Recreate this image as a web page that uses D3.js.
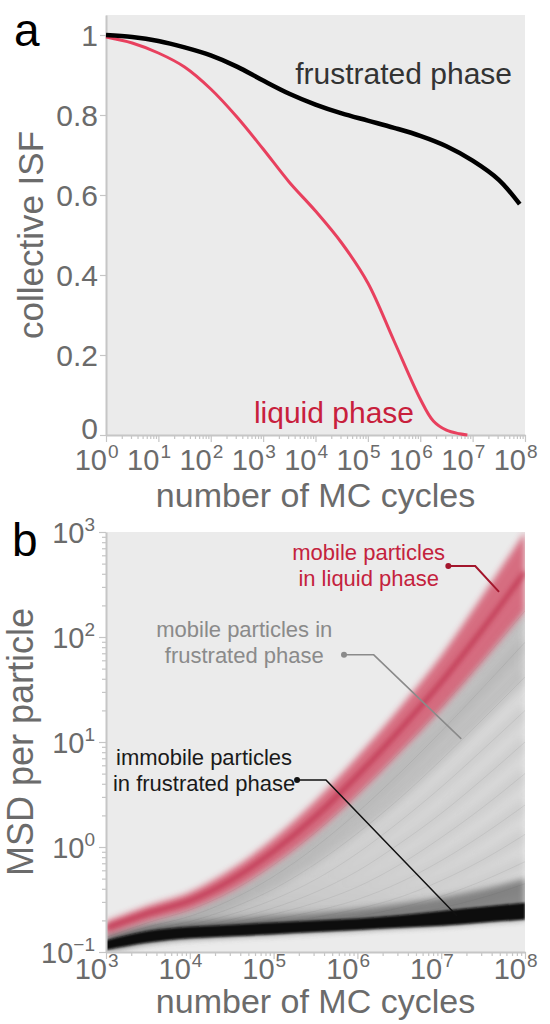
<!DOCTYPE html>
<html>
<head>
<meta charset="utf-8">
<script src="https://cdn.jsdelivr.net/npm/d3@7"></script>
<style>
body { margin: 0; background: #fff; }
svg text { font-family: "Liberation Sans", Arial, sans-serif; }
</style>
</head>
<body>
<div id="chart"></div>
<script>
// ---- panel a: collective ISF (x in log10 of MC cycles) ----
var frustratedLogT = [0, 0.5, 1, 1.5, 2, 2.5, 3, 3.5, 4, 4.5, 5, 5.5, 6, 6.5, 7, 7.5, 7.9];
var frustratedISF = [1.0, 0.995, 0.985, 0.969, 0.949, 0.921, 0.886, 0.853, 0.826, 0.804, 0.786, 0.768, 0.748, 0.722, 0.686, 0.638, 0.577];
var liquidLogT = [0, 0.5, 1, 1.5, 2, 2.5, 3, 3.5, 4, 4.5, 5, 5.5, 6, 6.25, 6.5, 6.75, 6.9];
var liquidISF = [0.995, 0.98, 0.955, 0.92, 0.865, 0.795, 0.715, 0.632, 0.56, 0.48, 0.38, 0.235, 0.09, 0.035, 0.012, 0.003, 0.0];
var isfTicks = [0, 0.2, 0.4, 0.6, 0.8, 1];
var decadesA = [0, 1, 2, 3, 4, 5, 6, 7, 8];

// ---- panel b: MSD per particle (log10 values at each log10 time) ----
var msdLogT = [3, 3.5, 4, 4.5, 5, 5.5, 6, 6.5, 7, 7.5, 8];
var liquidMid  = [-0.77, -0.63, -0.51, -0.31, -0.04, 0.29, 0.68, 1.11, 1.57, 2.08, 2.62];
var liquidHigh = [-0.71, -0.56, -0.43, -0.21, 0.08, 0.44, 0.86, 1.32, 1.82, 2.40, 3.00];
var liquidLow  = [-0.84, -0.71, -0.60, -0.42, -0.17, 0.13, 0.49, 0.89, 1.31, 1.77, 2.25];
var immobileHigh = [-0.89, -0.80, -0.76, -0.74, -0.72, -0.70, -0.68, -0.65, -0.61, -0.57, -0.53];
var immobileLow  = [-0.98, -0.91, -0.87, -0.85, -0.83, -0.81, -0.79, -0.77, -0.75, -0.72, -0.69];
var immobileHalo = [-0.86, -0.76, -0.72, -0.69, -0.66, -0.63, -0.59, -0.54, -0.48, -0.40, -0.30];
var mobileFrustrated = [
  [-0.86, -0.72, -0.60, -0.42, -0.17, 0.14, 0.50, 0.90, 1.33, 1.78, 2.25],
  [-0.88, -0.76, -0.66, -0.50, -0.28, 0.00, 0.33, 0.70, 1.10, 1.52, 1.95],
  [-0.90, -0.79, -0.71, -0.58, -0.40, -0.16, 0.13, 0.46, 0.83, 1.22, 1.62],
  [-0.91, -0.81, -0.74, -0.64, -0.50, -0.31, -0.06, 0.24, 0.57, 0.93, 1.30],
  [-0.92, -0.83, -0.77, -0.69, -0.58, -0.43, -0.23, 0.03, 0.32, 0.65, 1.00],
  [-0.92, -0.84, -0.78, -0.72, -0.64, -0.53, -0.38, -0.17, 0.09, 0.38, 0.70],
  [-0.93, -0.84, -0.79, -0.75, -0.69, -0.61, -0.50, -0.34, -0.13, 0.12, 0.40],
  [-0.93, -0.85, -0.80, -0.77, -0.73, -0.67, -0.59, -0.48, -0.32, -0.12, 0.12],
  [-0.93, -0.85, -0.80, -0.77, -0.75, -0.71, -0.66, -0.58, -0.47, -0.32, -0.14],
  [-0.93, -0.85, -0.81, -0.78, -0.76, -0.74, -0.70, -0.65, -0.58, -0.48, -0.35]
];
var decadesBx = [3, 4, 5, 6, 7, 8];
var decadesBy = [-1, 0, 1, 2, 3];

var svg = d3.select("#chart").append("svg")
  .attr("width", 550)
  .attr("height", 1024);

var defs = svg.append("defs");
[["blur1", 1], ["blur2", 2], ["blur3", 3], ["blur5", 5]].forEach(function(b) {
  defs.append("filter").attr("id", b[0])
    .attr("x", "-20%").attr("y", "-20%").attr("width", "140%").attr("height", "140%")
    .append("feGaussianBlur").attr("stdDeviation", b[1]);
});

var axisColor = "#c6c6c6";
var textGrey = "#6b6b6b";

// ======== panel a ========
var xA = d3.scaleLog().domain([1, 1e8]).range([106, 525]);
var yA = d3.scaleLinear().domain([0, 1.05]).range([435, 15]);

var gA = svg.append("g");
gA.append("rect")
  .attr("x", xA(1)).attr("y", yA(1.05))
  .attr("width", xA(1e8) - xA(1)).attr("height", yA(0) - yA(1.05))
  .attr("fill", "#ebebeb");

function minorTicks(lo, hi) {
  var out = [];
  for (var e = lo; e < hi; e++) {
    for (var m = 2; m <= 9; m++) out.push(m * Math.pow(10, e));
  }
  return out;
}

function styleAxis(g) {
  g.select(".domain").attr("stroke", axisColor).attr("stroke-width", 2);
  g.selectAll(".tick line").attr("stroke", axisColor).attr("stroke-width", 1.2);
  g.selectAll(".tick text").remove();
}

gA.append("g")
  .attr("transform", "translate(0," + yA(0) + ")")
  .call(d3.axisBottom(xA).tickValues(minorTicks(0, 8)).tickSize(4).tickSizeOuter(0))
  .call(styleAxis)
  .select(".domain").remove();
gA.append("g")
  .attr("transform", "translate(0," + yA(0) + ")")
  .call(d3.axisBottom(xA).tickValues(decadesA.map(function(d) { return Math.pow(10, d); })).tickSize(7).tickSizeOuter(0))
  .call(styleAxis);
gA.append("g")
  .attr("transform", "translate(" + xA(1) + ",0)")
  .call(d3.axisLeft(yA).tickValues(isfTicks).tickSize(6).tickSizeOuter(0))
  .call(styleAxis);

gA.selectAll(".ylab")
  .data(isfTicks)
  .enter().append("text")
  .attr("x", xA(1) - 8)
  .attr("y", function(d) { return yA(d) - (d === 0 ? 7 : 0); })
  .attr("dy", "0.36em")
  .attr("text-anchor", "end")
  .attr("font-size", 30)
  .attr("fill", textGrey)
  .text(function(d) { return (d === 0 || d === 1) ? d : d.toFixed(1); });

function powerLabels(g, decs, xs, y) {
  decs.forEach(function(e) {
    var x = xs(Math.pow(10, e));
    g.append("text")
      .attr("x", x + 1).attr("y", y)
      .attr("text-anchor", "end")
      .attr("font-size", 29)
      .attr("fill", textGrey)
      .text("10");
    g.append("text")
      .attr("x", x + 2).attr("y", y - 12)
      .attr("text-anchor", "start")
      .attr("font-size", 19)
      .attr("fill", textGrey)
      .text(e < 0 ? "\u2212" + (-e) : e);
  });
}
powerLabels(gA, decadesA, xA, 470);

gA.append("text")
  .attr("x", (xA(1) + xA(1e8)) / 2).attr("y", 507)
  .attr("text-anchor", "middle")
  .attr("font-size", 34)
  .attr("fill", textGrey)
  .text("number of MC cycles");
gA.append("text")
  .attr("transform", "translate(43," + yA(0.5) + ") rotate(-90)")
  .attr("text-anchor", "middle")
  .attr("font-size", 35)
  .attr("fill", textGrey)
  .text("collective ISF");

var lineA = d3.line()
  .x(function(d) { return xA(Math.pow(10, d[0])); })
  .y(function(d) { return yA(d[1]); })
  .curve(d3.curveCatmullRom.alpha(0.5));

gA.append("path")
  .datum(d3.zip(liquidLogT, liquidISF))
  .attr("d", lineA)
  .attr("fill", "none")
  .attr("stroke", "#e8405e")
  .attr("stroke-width", 3);
gA.append("path")
  .datum(d3.zip(frustratedLogT, frustratedISF))
  .attr("d", lineA)
  .attr("fill", "none")
  .attr("stroke", "#000")
  .attr("stroke-width", 4.5);

gA.append("text")
  .attr("x", 512).attr("y", 84)
  .attr("text-anchor", "end")
  .attr("font-size", 30)
  .attr("fill", "#333")
  .text("frustrated phase");
gA.append("text")
  .attr("x", 414).attr("y", 423)
  .attr("text-anchor", "end")
  .attr("font-size", 30)
  .attr("fill", "#c8203c")
  .text("liquid phase");

svg.append("text")
  .attr("x", 14).attr("y", 46)
  .attr("font-size", 46)
  .attr("fill", "#000")
  .text("a");

// ======== panel b ========
var xB = d3.scaleLog().domain([1e3, 1e8]).range([106, 525]);
var yB = d3.scaleLog().domain([0.1, 1000]).range([952, 532]);

var gB = svg.append("g");
defs.append("clipPath").attr("id", "clipB")
  .append("rect")
  .attr("x", xB(1e3)).attr("y", yB(1000))
  .attr("width", xB(1e8) - xB(1e3)).attr("height", yB(0.1) - yB(1000));

gB.append("rect")
  .attr("x", xB(1e3)).attr("y", yB(1000))
  .attr("width", xB(1e8) - xB(1e3)).attr("height", yB(0.1) - yB(1000))
  .attr("fill", "#ebebeb");

var plotB = gB.append("g").attr("clip-path", "url(#clipB)");

function px(i) { return xB(Math.pow(10, msdLogT[i])); }
function py(v) { return yB(Math.pow(10, v)); }

var lineB = d3.line()
  .x(function(d, i) { return px(i); })
  .y(function(d) { return py(d); })
  .curve(d3.curveMonotoneX);

function bandB(lower, upper) {
  return d3.area()
    .x(function(d, i) { return px(i); })
    .y0(function(d, i) { return py(lower[i]); })
    .y1(function(d, i) { return py(upper[i]); })
    .curve(d3.curveMonotoneX)(msdLogT);
}

// fan of mobile particles in frustrated phase
plotB.append("path")
  .attr("d", bandB(immobileLow, mobileFrustrated[0]))
  .attr("fill", "#dadada")
  .attr("filter", "url(#blur3)");
plotB.append("path")
  .attr("d", bandB(mobileFrustrated[2], liquidLow))
  .attr("fill", "#9a9a9a")
  .attr("opacity", 0.35)
  .attr("filter", "url(#blur5)");

var fanSoft = plotB.append("g").attr("filter", "url(#blur5)");
mobileFrustrated.forEach(function(c) {
  fanSoft.append("path")
    .attr("d", lineB(c))
    .attr("fill", "none")
    .attr("stroke", "#777")
    .attr("stroke-width", 12)
    .attr("opacity", 0.14);
});
mobileFrustrated.forEach(function(c) {
  plotB.append("path")
    .attr("d", lineB(c))
    .attr("fill", "none")
    .attr("stroke", "#555")
    .attr("stroke-width", 0.7)
    .attr("opacity", 0.14);
});

// dark halo above the immobile band
plotB.append("path")
  .attr("d", bandB(immobileLow, immobileHalo))
  .attr("fill", "#444")
  .attr("opacity", 0.55)
  .attr("filter", "url(#blur3)");

// mobile particles in liquid phase
plotB.append("path")
  .attr("d", bandB(liquidLow, liquidHigh))
  .attr("fill", "#cf3d58")
  .attr("opacity", 0.72)
  .attr("filter", "url(#blur3)");
plotB.append("path")
  .attr("d", lineB(liquidMid))
  .attr("fill", "none")
  .attr("stroke", "#b8243f")
  .attr("stroke-width", 6)
  .attr("opacity", 0.5)
  .attr("filter", "url(#blur2)");

// immobile particles
plotB.append("path")
  .attr("d", bandB(immobileLow, immobileHigh))
  .attr("fill", "#0a0a0a")
  .attr("filter", "url(#blur1)");

// axes
gB.append("g")
  .attr("transform", "translate(0," + yB(0.1) + ")")
  .call(d3.axisBottom(xB).tickValues(minorTicks(3, 8)).tickSize(4).tickSizeOuter(0))
  .call(styleAxis)
  .select(".domain").remove();
gB.append("g")
  .attr("transform", "translate(0," + yB(0.1) + ")")
  .call(d3.axisBottom(xB).tickValues(decadesBx.map(function(d) { return Math.pow(10, d); })).tickSize(7).tickSizeOuter(0))
  .call(styleAxis);
gB.append("g")
  .attr("transform", "translate(" + xB(1e3) + ",0)")
  .call(d3.axisLeft(yB).tickValues(minorTicks(-1, 3)).tickSize(4).tickSizeOuter(0))
  .call(styleAxis)
  .select(".domain").remove();
gB.append("g")
  .attr("transform", "translate(" + xB(1e3) + ",0)")
  .call(d3.axisLeft(yB).tickValues(decadesBy.map(function(d) { return Math.pow(10, d); })).tickSize(7).tickSizeOuter(0))
  .call(styleAxis);

powerLabels(gB, decadesBx, xB, 979);

decadesBy.forEach(function(e) {
  var t = gB.append("text")
    .attr("x", 95).attr("y", yB(Math.pow(10, e)) + 11)
    .attr("text-anchor", "end")
    .attr("font-size", 29)
    .attr("fill", textGrey);
  t.append("tspan").text("10");
  t.append("tspan").attr("font-size", 19).attr("dy", -12).text(e < 0 ? "\u2212" + (-e) : e);
});

gB.append("text")
  .attr("x", (xB(1e3) + xB(1e8)) / 2).attr("y", 1013)
  .attr("text-anchor", "middle")
  .attr("font-size", 34)
  .attr("fill", textGrey)
  .text("number of MC cycles");
gB.append("text")
  .attr("transform", "translate(33," + yB(10) + ") rotate(-90)")
  .attr("text-anchor", "middle")
  .attr("font-size", 36)
  .attr("fill", textGrey)
  .text("MSD per particle");

svg.append("text")
  .attr("x", 12).attr("y", 556)
  .attr("font-size", 46)
  .attr("fill", "#000")
  .text("b");

// annotations (positions in data space: log10 t, log10 msd)
var notes = [
  { lines: ["mobile particles", "in liquid phase"], color: "#c4223d", lineColor: "#a3162c",
    text: [6.135, 2.73], path: [[7.085, 2.676], [7.406, 2.676], [7.69, 2.43]], width: 2 },
  { lines: ["mobile particles in", "frustrated phase"], color: "#8a8a8a", lineColor: "#8a8a8a",
    text: [4.65, 2.0], path: [[5.84, 1.83], [6.195, 1.83], [7.24, 1.03]], width: 1.5 },
  { lines: ["immobile particles", "in frustrated phase"], color: "#1a1a1a", lineColor: "#111",
    text: [4.17, 0.78], path: [[5.28, 0.638], [5.625, 0.638], [7.19, -0.657]], width: 1.5 }
];

notes.forEach(function(n) {
  var tx = xB(Math.pow(10, n.text[0]));
  var ty = yB(Math.pow(10, n.text[1]));
  n.lines.forEach(function(s, i) {
    gB.append("text")
      .attr("x", tx).attr("y", ty + i * 26)
      .attr("text-anchor", "middle")
      .attr("font-size", 22)
      .attr("fill", n.color)
      .text(s);
  });
  gB.append("path")
    .attr("d", d3.line()
      .x(function(d) { return xB(Math.pow(10, d[0])); })
      .y(function(d) { return yB(Math.pow(10, d[1])); })(n.path))
    .attr("fill", "none")
    .attr("stroke", n.lineColor)
    .attr("stroke-width", n.width);
  gB.append("circle")
    .attr("cx", xB(Math.pow(10, n.path[0][0])))
    .attr("cy", yB(Math.pow(10, n.path[0][1])))
    .attr("r", 3)
    .attr("fill", n.lineColor);
});
</script>
</body>
</html>
